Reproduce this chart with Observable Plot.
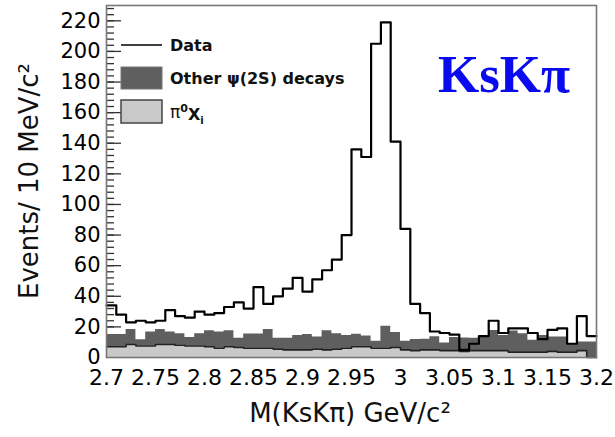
<!DOCTYPE html>
<html>
<head>
<meta charset="utf-8">
<script src="https://cdn.jsdelivr.net/npm/d3@7"></script>
<script src="https://cdn.jsdelivr.net/npm/@observablehq/plot@0.6"></script>
<style>
  html, body { margin: 0; padding: 0; background: white; }
</style>
</head>
<body>
<div id="chart"></div>
<script>
// Binning: 10 MeV bins from 2.70 to 3.20 GeV/c^2
const binStart = 2.7;
const binWidth = 0.01;

// Data (events per bin)
const dataCounts = [34, 28, 23, 24, 23, 24, 31, 27, 26, 30,
                    28, 29, 33, 36, 32, 46, 35, 40, 45, 52,
                    43, 51, 57, 64, 80, 136, 131, 205, 219, 141,
                    84, 35, 29, 17, 16, 15, 5, 9, 14, 24,
                    16, 19, 19, 16, 12, 18, 19, 9, 27, 14];

// pi0 X_i background
const pi0Xi = [7, 7, 8.5, 7.5, 7.5, 8.5, 8.5, 8, 7.5, 7.5,
               7, 6, 7, 6.5, 6, 6, 6, 5.5, 5, 5,
               5, 5.5, 5, 5.5, 6, 7, 7, 6, 6, 6.5,
               5, 4.5, 5, 5, 4.5, 4.5, 4, 4.5, 4.5, 4.5,
               4.5, 3.5, 3.5, 3.5, 3.5, 4, 3.5, 3.5, 4.5, 0];

// Other psi(2S) decays background (stacked on top of pi0 X_i)
const otherDecays = [8, 8, 9.8, 4.1, 9.1, 9.8, 8.1, 7.5, 5.5, 8,
                     10.5, 10.6, 10.5, 6, 9.3, 9.3, 12.3, 7, 7.5, 9.4,
                     10.1, 7.9, 12.5, 10, 8.4, 8.2, 7, 4.6, 14.5, 9.8,
                     5.6, 7.2, 7, 8.6, 5, 8.5, 8.8, 8, 9.3, 13.2,
                     9.9, 13.8, 12, 7.7, 10.9, 9.4, 9.9, 5.5, 5.6, 10.1];

// Axis ticks
const xTicks = [2.7, 2.75, 2.8, 2.85, 2.9, 2.95, 3, 3.05, 3.1, 3.15, 3.2];
const yMajorTicks = [0, 20, 40, 60, 80, 100, 120, 140, 160, 180, 200, 220];
const yMinorTicks = d3.range(0, 229, 4);

// Build step rows (bin edges; last value repeated for the closing edge)
const nBins = dataCounts.length;
const rows = d3.range(nBins + 1).map(i => {
  const j = Math.min(i, nBins - 1);
  return {
    x: +(binStart + i * binWidth).toFixed(3),
    data: dataCounts[j],
    pi0: pi0Xi[j],
    other: otherDecays[j]
  };
});

const marginLeft = 106;
const layout = {
  width: 615, height: 437,
  marginLeft: marginLeft, marginRight: 19, marginTop: 5, marginBottom: 80,
  x: { domain: [2.7, 3.2] },
  y: { domain: [0, 230] }
};

// Tick lengths in pixels converted to data units through Plot's own x scale
const xs = Plot.plot({ ...layout, marks: [] }).scale("x");
const pxPerUnit = (xs.range[1] - xs.range[0]) / (xs.domain[1] - xs.domain[0]);
const majorEnd = 2.7 + 15 / pxPerUnit;
const minorEnd = 2.7 + 8 / pxPerUnit;

const plot = Plot.plot({
  ...layout,
  style: { fontFamily: "DejaVu Sans", fontSize: "22px", background: "white", color: "black" },
  marks: [
    Plot.ruleY(yMinorTicks.filter(t => t >= 20), { y: d => d, x1: 2.7, x2: minorEnd, stroke: "#333", strokeWidth: 1.3 }),
    Plot.ruleY(yMajorTicks.filter(t => t >= 20), { y: d => d, x1: 2.7, x2: majorEnd, stroke: "#333", strokeWidth: 1.3 }),
    Plot.axisY({ ticks: yMajorTicks, tickSize: 0, tickPadding: 6, label: null, fontSize: 21 }),
    Plot.axisX({ ticks: xTicks, tickSize: 0, tickPadding: 12, label: null,
                 tickFormat: d => String(+d.toFixed(2)) }),
    Plot.areaY(rows, { x: "x", y: "pi0", curve: "step-after", fill: "#c9c9c9" }),
    Plot.areaY(rows, { x: "x", y1: "pi0", y2: d => d.pi0 + d.other, curve: "step-after", fill: "#5f5f5f" }),
    Plot.line(rows, { x: "x", y: "pi0", curve: "step-after", stroke: "#222", strokeWidth: 1.6 }),
    Plot.line(rows, { x: "x", y: "data", curve: "step-after", stroke: "#000", strokeWidth: 2.2 }),
    Plot.frame({ stroke: "#777", strokeWidth: 1.6 })
  ]
});

document.getElementById("chart").appendChild(plot);

const svg = d3.select(plot);
const font = "DejaVu Sans";

// Titles, legend and annotation
svg.append("text")
  .attr("transform", "translate(38,181) rotate(-90)")
  .attr("text-anchor", "middle")
  .attr("font-family", font)
  .attr("font-size", 26)
  .attr("fill", "#111")
  .text("Events/ 10 MeV/c²");

svg.append("text")
  .attr("x", 350).attr("y", 422)
  .attr("text-anchor", "middle")
  .attr("font-family", font)
  .attr("font-size", 26)
  .attr("fill", "#111")
  .text("M(KsKπ) GeV/c²");

const leg = svg.append("g")
  .attr("font-family", font).attr("font-weight", "bold").attr("font-size", 16)
  .attr("fill", "#111").attr("text-anchor", "start");
leg.append("line").attr("x1", 121).attr("x2", 162).attr("y1", 45).attr("y2", 45)
  .attr("stroke", "#000").attr("stroke-width", 1.6);
leg.append("text").attr("x", 170).attr("y", 45).attr("dy", "0.35em").text("Data");
leg.append("rect").attr("x", 121).attr("y", 67).attr("width", 41).attr("height", 22)
  .attr("fill", "#5f5f5f").attr("stroke", "#777").attr("stroke-width", 1);
leg.append("text").attr("x", 170).attr("y", 78).attr("dy", "0.35em").text("Other ψ(2S) decays");
leg.append("rect").attr("x", 121).attr("y", 100).attr("width", 41).attr("height", 23)
  .attr("fill", "#c9c9c9").attr("stroke", "#444").attr("stroke-width", 1.5);
const pt = leg.append("text").attr("x", 170).attr("y", 112).attr("dy", "0.35em");
pt.append("tspan").attr("font-weight", "normal").attr("font-size", 17).text("π");
pt.append("tspan").attr("font-size", 11).attr("dy", "-0.5em").text("0");
pt.append("tspan").attr("dy", "0.5em").text("X");
pt.append("tspan").attr("font-size", 10).attr("dy", "0.35em").text("i");

svg.append("text")
  .attr("x", 438).attr("y", 92)
  .attr("text-anchor", "start")
  .attr("font-family", "Liberation Serif")
  .attr("font-weight", "bold")
  .attr("font-size", 53)
  .attr("fill", "#0a0aef")
  .text("KsKπ");
</script>
</body>
</html>
